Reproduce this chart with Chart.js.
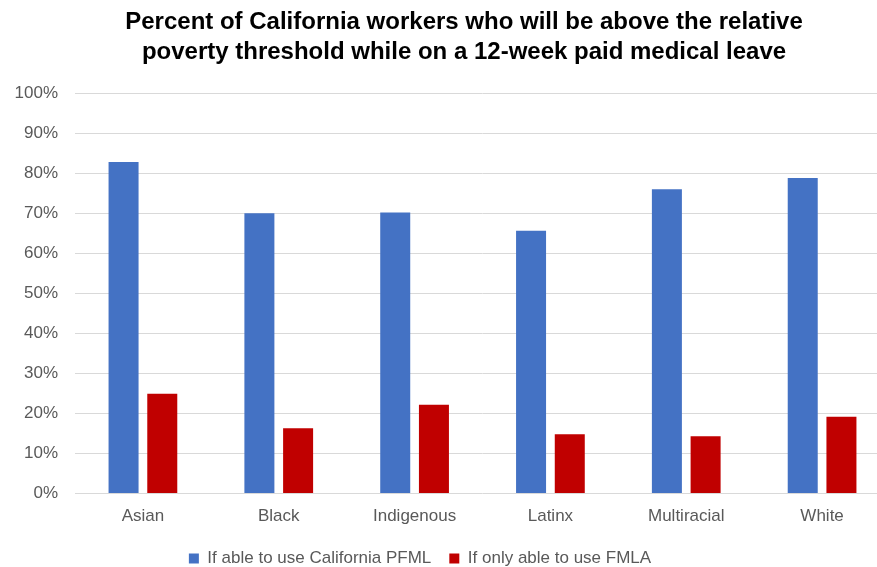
<!DOCTYPE html>
<html>
<head>
<meta charset="utf-8">
<script src="https://cdn.jsdelivr.net/npm/chart.js@4"></script>
<style>
  html, body { margin: 0; padding: 0; background: #fff; overflow: hidden; }
  #wrap { width: 890px; height: 577px; position: relative; }
</style>
</head>
<body>
<div id="wrap"><canvas id="povertyChart"></canvas></div>
<script>
const groups = ['Asian', 'Black', 'Indigenous', 'Latinx', 'Multiracial', 'White'];
const pfmlShare = [82.8, 70.0, 70.2, 65.6, 76.0, 78.8];
const fmlaShare = [24.9, 16.3, 22.2, 14.8, 14.3, 19.2];
const seriesNames = ['If able to use California PFML', 'If only able to use FMLA'];
const titleLines = [
  'Percent of California workers who will be above the relative',
  'poverty threshold while on a 12-week paid medical leave'
];

Chart.defaults.font.family = '"Liberation Sans", Arial, sans-serif';
Chart.defaults.color = '#595959';

// title sits a bit right of centre and the legend a bit left, as in the original
const nudgeBoxes = {
  id: 'nudgeBoxes',
  afterLayout(chart) {
    if (chart.titleBlock) { chart.titleBlock.left += 13; chart.titleBlock.right += 13; }
    if (chart.legend) { chart.legend.left -= 31; chart.legend.right -= 31; }
  }
};

new Chart(document.getElementById('povertyChart'), {
  type: 'bar',
  data: {
    labels: groups,
    datasets: [
      { label: seriesNames[0], data: pfmlShare, backgroundColor: '#4472c4' },
      { label: seriesNames[1], data: fmlaShare, backgroundColor: '#c00000' }
    ]
  },
  options: {
    responsive: true,
    maintainAspectRatio: false,
    animation: false,
    categoryPercentage: 0.57,
    barPercentage: 0.775,
    layout: { padding: { left: 12, right: 0, top: 7, bottom: 0 } },
    plugins: {
      title: {
        display: true,
        text: titleLines,
        color: '#000',
        font: { size: 24, weight: 'bold', lineHeight: 1.25 },
        padding: { top: 0, bottom: 26 }
      },
      legend: {
        position: 'bottom',
        labels: { boxWidth: 10, boxHeight: 10, font: { size: 17 }, padding: 18 }
      },
      tooltip: { enabled: false }
    },
    scales: {
      x: {
        grid: { display: false },
        border: { display: false },
        ticks: { font: { size: 17 }, padding: 5 }
      },
      y: {
        min: 0,
        max: 100,
        border: { display: false },
        grid: { color: '#d9d9d9', drawTicks: false },
        afterFit: (scale) => { scale.width = 63; },
        ticks: {
          stepSize: 10,
          padding: 17,
          font: { size: 17 },
          callback: (v) => v + '%'
        }
      }
    }
  },
  plugins: [nudgeBoxes]
});
</script>
</body>
</html>
